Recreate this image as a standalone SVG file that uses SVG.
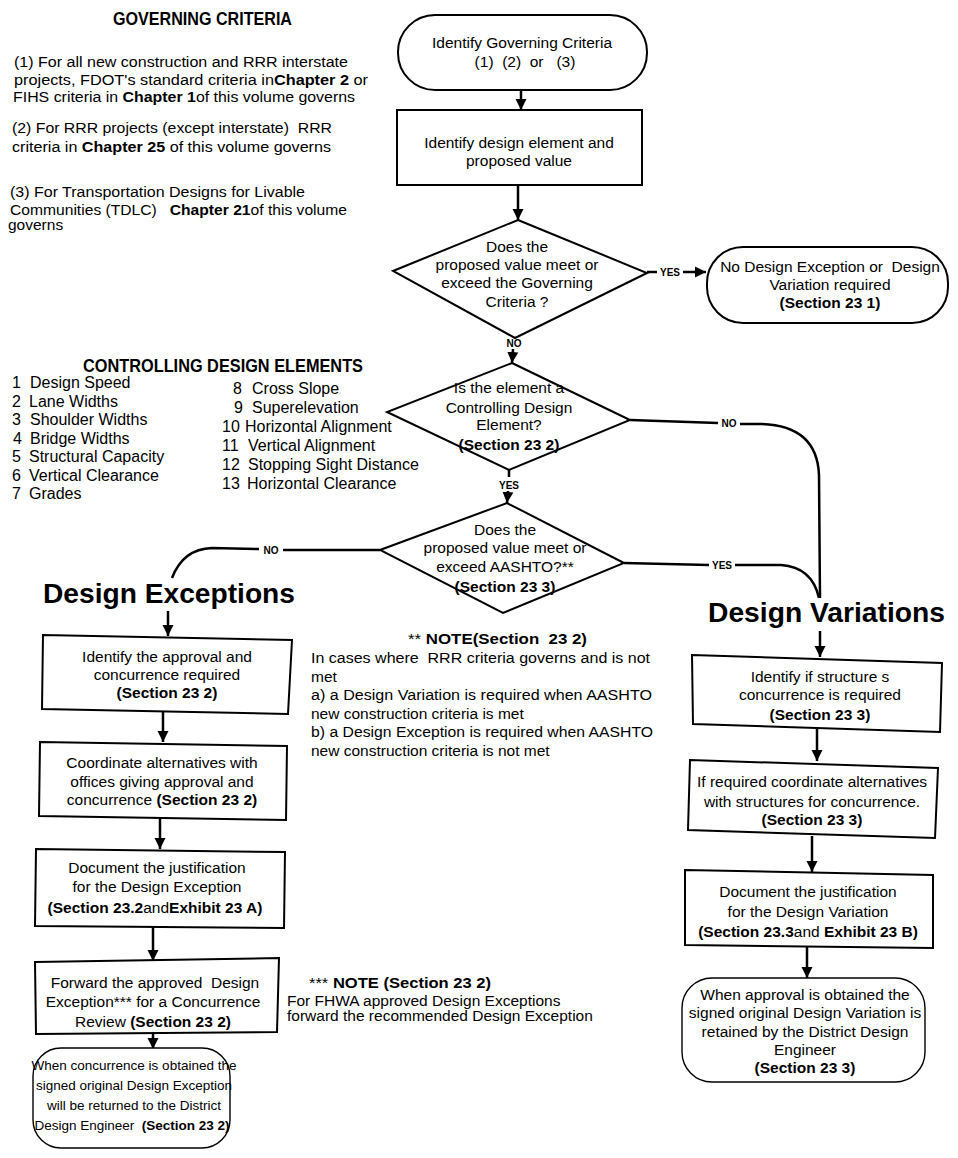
<svg xmlns="http://www.w3.org/2000/svg" width="958" height="1158" viewBox="0 0 958 1158">
<defs>
<marker id="ah" viewBox="0 0 10 10" refX="10" refY="5" markerWidth="11" markerHeight="13" markerUnits="userSpaceOnUse" orient="auto"><path d="M0,0 L10,5 L0,10 z" fill="#000"/></marker>
<style>
text{font-family:"Liberation Sans",Arial,sans-serif;font-size:15.5px;fill:#000}
.c{text-anchor:middle}
.b{font-weight:bold}
.h{font-weight:bold;font-size:28px}
.hd{font-weight:bold;font-size:19px}
.li{font-size:16px}
.sm{font-size:13.5px}
.lbl{font-size:10px;font-weight:bold;text-anchor:middle}
.box{fill:#fff;stroke:#000;stroke-width:2}
.thin{fill:#fff;stroke:#000;stroke-width:1.4}
.ln{fill:none;stroke:#000;stroke-width:2.5}
.arr{fill:none;stroke:#000;stroke-width:2.5;marker-end:url(#ah)}
</style>
</defs>
<rect width="958" height="1158" fill="#fff"/>

<g id="governing-criteria">
<text class="hd" x="113" y="25" textLength="179" lengthAdjust="spacingAndGlyphs">GOVERNING CRITERIA</text>
<text x="14" y="67" textLength="334" lengthAdjust="spacingAndGlyphs">(1) For all new construction and RRR interstate</text>
<text x="14" y="85" textLength="354" lengthAdjust="spacingAndGlyphs">projects, FDOT's standard criteria in<tspan class="b">Chapter 2</tspan> or</text>
<text x="13" y="102" textLength="342" lengthAdjust="spacingAndGlyphs">FIHS criteria in <tspan class="b">Chapter 1</tspan>of this volume governs</text>
<text x="12" y="133" textLength="320" lengthAdjust="spacingAndGlyphs">(2) For RRR projects (except interstate)&#160; RRR</text>
<text x="12" y="152" textLength="319" lengthAdjust="spacingAndGlyphs">criteria in <tspan class="b">Chapter 25</tspan> of this volume governs</text>
<text x="10" y="197" textLength="295" lengthAdjust="spacingAndGlyphs">(3) For Transportation Designs for Livable</text>
<text x="10" y="215" textLength="337" lengthAdjust="spacingAndGlyphs">Communities (TDLC)&#160;&#160; <tspan class="b">Chapter 21</tspan>of this volume</text>
<text x="8" y="230">governs</text>
</g>

<g id="controlling-elements">
<text class="hd" x="83" y="372" font-size="20" textLength="280" lengthAdjust="spacingAndGlyphs">CONTROLLING DESIGN ELEMENTS</text>
<text class="li" x="12" y="388">1</text><text class="li" x="30" y="388">Design Speed</text>
<text class="li" x="12" y="406.5">2</text><text class="li" x="29" y="406.5">Lane Widths</text>
<text class="li" x="12" y="425">3</text><text class="li" x="30" y="425">Shoulder Widths</text>
<text class="li" x="13" y="443.5">4</text><text class="li" x="30" y="443.5">Bridge Widths</text>
<text class="li" x="12" y="462">5</text><text class="li" x="29" y="462">Structural Capacity</text>
<text class="li" x="12" y="480.5">6</text><text class="li" x="29" y="480.5">Vertical Clearance</text>
<text class="li" x="12" y="499">7</text><text class="li" x="29" y="499">Grades</text>
<text class="li" x="233" y="394">8</text><text class="li" x="252" y="394">Cross Slope</text>
<text class="li" x="234" y="413">9</text><text class="li" x="252" y="413">Superelevation</text>
<text class="li" x="222" y="432">10</text><text class="li" x="245" y="432">Horizontal Alignment</text>
<text class="li" x="222" y="451">11</text><text class="li" x="248" y="451">Vertical Alignment</text>
<text class="li" x="222" y="470">12</text><text class="li" x="248" y="470">Stopping Sight Distance</text>
<text class="li" x="222" y="489">13</text><text class="li" x="247" y="489">Horizontal Clearance</text>
</g>

<g id="note-aashto">
<text x="408" y="644" font-size="17" textLength="179" lengthAdjust="spacingAndGlyphs">** <tspan class="b">NOTE(Section&#160; 23 2)</tspan></text>
<text x="311" y="663" textLength="339" lengthAdjust="spacingAndGlyphs">In cases where&#160; RRR criteria governs and is not</text>
<text x="311" y="681.5">met</text>
<text x="311" y="700" textLength="341" lengthAdjust="spacingAndGlyphs">a) a Design Variation is required when AASHTO</text>
<text x="311" y="718.5">new construction criteria is met</text>
<text x="311" y="737" textLength="342" lengthAdjust="spacingAndGlyphs">b) a Design Exception is required when AASHTO</text>
<text x="311" y="755.5">new construction criteria is not met</text>
</g>

<g id="note-fhwa">
<text x="309" y="988" font-size="16" textLength="182" lengthAdjust="spacingAndGlyphs">*** <tspan class="b">NOTE (Section 23 2)</tspan></text>
<text x="287" y="1006" font-size="14">For FHWA approved Design Exceptions</text>
<text x="287" y="1021" font-size="14">forward the recommended Design Exception</text>
</g>

<g id="connectors">
<path class="arr" d="M521 90 L521 110"/>
<path class="arr" d="M518 185 L518 220"/>
<path class="ln" d="M647 272 L657 272"/>
<text class="lbl" x="670" y="275.5">YES</text>
<path class="arr" d="M683 272 L706 272"/>
<text class="lbl" x="514" y="347">NO</text>
<path class="arr" d="M513 349 L512 363"/>
<path class="ln" d="M630 420 L718 423"/>
<text class="lbl" x="729" y="427">NO</text>
<path class="ln" d="M740 424 L762 424 Q817 426 819 475 L820 598"/>
<path class="ln" d="M509 470 L509 477"/>
<text class="lbl" x="509" y="489">YES</text>
<path class="arr" d="M508 491 L507 503"/>
<path class="ln" d="M624 563 L709 565"/>
<text class="lbl" x="722" y="569">YES</text>
<path class="ln" d="M735 565 L781 565 Q812 567 819 598"/>
<path class="ln" d="M380 550 L283 550"/>
<text class="lbl" x="271" y="554">NO</text>
<path class="ln" d="M259 549 L212 548 Q183 549 172 578"/>
<path class="arr" d="M168 611 L168 636"/>
<path class="arr" d="M163 712 L163 742"/>
<path class="arr" d="M160 818 L160 849"/>
<path class="arr" d="M153 927 L153 961"/>
<path class="arr" d="M153 1033 L153 1049"/>
<path class="arr" d="M820 631 L820 657"/>
<path class="arr" d="M817 729 L817 761"/>
<path class="arr" d="M812 836 L812 872"/>
<path class="arr" d="M807 947 L807 978"/>
</g>

<g id="n-identify-criteria">
<rect class="box" x="398" y="15" width="249" height="75" rx="37"/>
<text class="c" x="522" y="48">Identify Governing Criteria</text>
<text class="c" x="525" y="67">(1)&#160; (2)&#160; or&#160;&#160; (3)</text>
</g>

<g id="n-identify-element">
<rect class="box" x="397" y="110" width="245" height="75"/>
<text class="c" x="519" y="148">Identify design element and</text>
<text class="c" x="519" y="166">proposed value</text>
</g>

<g id="d-meet-governing">
<polygon class="box" stroke-width="2.5" points="518,220 647,273 515,338 393,271"/>
<text class="c" x="517" y="252">Does the</text>
<text class="c" x="517" y="270">proposed value meet or</text>
<text class="c" x="517" y="288">exceed the Governing</text>
<text class="c" x="517" y="307">Criteria ?</text>
</g>

<g id="n-no-exception">
<rect class="box" x="707" y="247" width="241" height="76" rx="36"/>
<text class="c" x="830" y="272">No Design Exception or&#160; Design</text>
<text class="c" x="830" y="290">Variation required</text>
<text class="c b" x="830" y="308">(Section 23 1)</text>
</g>

<g id="d-controlling">
<polygon class="box" stroke-width="2.5" points="512,363 630,420 509,470 387,412"/>
<text class="c" x="509" y="393">Is the element a</text>
<text class="c" x="509" y="413">Controlling Design</text>
<text class="c" x="509" y="430">Element?</text>
<text class="c b" x="509" y="450">(Section 23 2)</text>
</g>

<g id="d-aashto">
<polygon class="box" stroke-width="2.5" points="507,503 624,563 503,613 380,550"/>
<text class="c" x="505" y="535">Does the</text>
<text class="c" x="505" y="553">proposed value meet or</text>
<text class="c" x="505" y="572">exceed AASHTO?**</text>
<text class="c b" x="505" y="592">(Section 23 3)</text>
</g>

<g id="h-exceptions">
<text class="h" x="43" y="603" textLength="252" lengthAdjust="spacingAndGlyphs">Design Exceptions</text>
</g>

<g id="h-variations">
<text class="h" x="708" y="622" textLength="237" lengthAdjust="spacingAndGlyphs">Design Variations</text>
</g>

<g id="e1">
<polygon class="box" points="43,635 292,640 288,714 42,709"/>
<text class="c" x="167" y="662">Identify the approval and</text>
<text class="c" x="167" y="680">concurrence required</text>
<text class="c b" x="167" y="698">(Section 23 2)</text>
</g>

<g id="e2">
<polygon class="box" points="40,742 287,746 286,820 39,816"/>
<text class="c" x="162" y="768">Coordinate alternatives with</text>
<text class="c" x="162" y="787">offices giving approval and</text>
<text class="c" x="162" y="805">concurrence <tspan class="b">(Section 23 2)</tspan></text>
</g>

<g id="e3">
<polygon class="box" points="36,849 285,852 284,928 35,926"/>
<text class="c" x="157" y="873">Document the justification</text>
<text class="c" x="157" y="892">for the Design Exception</text>
<text class="c" x="155" y="913"><tspan class="b">(Section 23.2</tspan>and<tspan class="b">Exhibit 23 A)</tspan></text>
</g>

<g id="e4">
<polygon class="box" points="35,962 279,958 277,1032 36,1034"/>
<text class="c" x="155" y="988">Forward the approved&#160; Design</text>
<text class="c" x="153" y="1007">Exception*** for a Concurrence</text>
<text class="c" x="153" y="1027">Review <tspan class="b">(Section 23 2)</tspan></text>
</g>

<g id="e5">
<rect class="thin" x="33" y="1048" width="197" height="100" rx="28"/>
<text class="c sm" x="134" y="1070">When concurrence is obtained the</text>
<text class="c sm" x="134" y="1090">signed original Design Exception</text>
<text class="c sm" x="134" y="1110">will be returned to the District</text>
<text class="c sm" x="132" y="1130">Design Engineer&#160; <tspan class="b">(Section 23 2)</tspan></text>
</g>

<g id="v1">
<polygon class="box" points="692,655 942,663 940,732 693,724"/>
<text class="c" x="820" y="682">Identify if structure s</text>
<text class="c" x="820" y="700">concurrence is required</text>
<text class="c b" x="820" y="720">(Section 23 3)</text>
</g>

<g id="v2">
<polygon class="box" points="690,760 938,768 935,838 688,830"/>
<text class="c" x="812" y="787">If required coordinate alternatives</text>
<text class="c" x="812" y="807">with structures for concurrence.</text>
<text class="c b" x="812" y="825">(Section 23 3)</text>
</g>

<g id="v3">
<polygon class="box" points="685,870 933,875 933,948 685,945"/>
<text class="c" x="808" y="897">Document the justification</text>
<text class="c" x="808" y="917">for the Design Variation</text>
<text class="c" x="808" y="937"><tspan class="b">(Section 23.3</tspan>and <tspan class="b">Exhibit 23 B)</tspan></text>
</g>

<g id="v4">
<rect class="thin" x="682" y="978" width="243" height="104" rx="30"/>
<text class="c" x="805" y="1000">When approval is obtained the</text>
<text class="c" x="805" y="1018">signed original Design Variation is</text>
<text class="c" x="805" y="1037">retained by the District Design</text>
<text class="c" x="805" y="1055">Engineer</text>
<text class="c b" x="805" y="1073">(Section 23 3)</text>
</g>
</svg>
